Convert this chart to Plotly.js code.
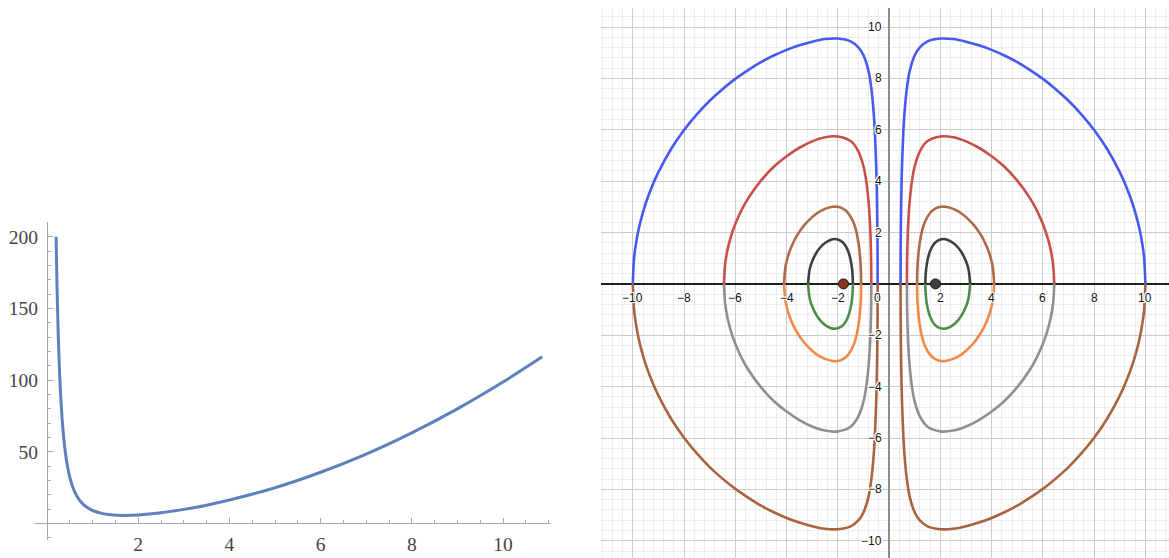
<!DOCTYPE html>
<html>
<head>
<meta charset="utf-8">
<script src="https://cdn.plot.ly/plotly-3.0.1.min.js"></script>
<style>
  html, body { margin: 0; padding: 0; background: #fff; }
  #chart { width: 1169px; height: 558px; }
</style>
</head>
<body>
<div id="chart"></div>
<script>
// ---- Left panel: one smooth curve ----
const curveX = [0.2, 0.21, 0.22, 0.24, 0.26, 0.28, 0.3, 0.33, 0.36, 0.4, 0.45, 0.5, 0.55, 0.6, 0.7, 0.8, 0.9, 1.0, 1.2, 1.4, 1.7, 2.0, 2.5, 3.0, 3.5, 4.0, 5.0, 6.0, 7.0, 8.0, 9.0, 10.0, 10.86];
const curveY = [200, 181.4, 165.3, 138.9, 118.4, 102.1, 89.0, 73.6, 61.9, 50.2, 39.7, 32.2, 26.7, 22.6, 16.8, 13.1, 10.7, 9.0, 7.0, 6.0, 5.6, 5.9, 7.4, 9.8, 12.7, 16.3, 24.9, 35.7, 48.4, 63.2, 79.9, 98.6, 116.2];
const leftXTicks = [2, 4, 6, 8, 10];
const leftYTicks = [50, 100, 150, 200];

// ---- Right panel: four closed loops around each of the two points ----
// distance from the vertical axis, and height above the horizontal axis
const loop1D = [0.447, 0.45, 0.46, 0.48, 0.5, 0.55, 0.6, 0.7, 0.8, 1.0, 1.2, 1.5, 2.0, 2.5, 3.0, 3.5, 4.0, 4.5, 5.0, 5.5, 6.0, 6.5, 7.0, 7.5, 8.0, 8.5, 9.0, 9.25, 9.5, 9.7, 9.8, 9.9, 9.95, 10.0];
const loop1H = [0, 1.11, 2.34, 3.63, 4.47, 5.81, 6.65, 7.67, 8.27, 8.90, 9.21, 9.44, 9.55, 9.53, 9.43, 9.29, 9.11, 8.89, 8.63, 8.32, 7.98, 7.58, 7.13, 6.60, 5.99, 5.26, 4.35, 3.79, 3.12, 2.43, 1.99, 1.41, 1.0, 0];
const loop2D = [0.694, 0.7, 0.72, 0.75, 0.8, 0.9, 1.0, 1.2, 1.5, 2.0, 2.5, 3.0, 3.5, 4.0, 4.5, 5.0, 5.5, 5.75, 6.0, 6.1, 6.2, 6.3, 6.4, 6.443];
const loop2H = [0, 0.83, 1.70, 2.42, 3.18, 4.06, 4.58, 5.16, 5.56, 5.74, 5.71, 5.55, 5.30, 4.97, 4.56, 4.02, 3.33, 2.89, 2.33, 2.06, 1.74, 1.35, 0.74, 0];
const loop3D = [1.091, 1.1, 1.12, 1.15, 1.2, 1.3, 1.4, 1.6, 1.8, 2.0, 2.2, 2.5, 2.8, 3.0, 3.3, 3.5, 3.7, 3.9, 4.0, 4.05, 4.1];
const loop3H = [0, 0.51, 0.89, 1.24, 1.63, 2.12, 2.42, 2.76, 2.93, 3.0, 3.0, 2.92, 2.76, 2.60, 2.30, 2.03, 1.69, 1.22, 0.87, 0.62, 0];
const loop4D = [1.414, 1.42, 1.45, 1.5, 1.6, 1.7, 1.8, 2.0, 2.2, 2.4, 2.6, 2.8, 3.0, 3.1, 3.162];
const loop4H = [0, 0.25, 0.62, 0.93, 1.28, 1.48, 1.61, 1.73, 1.74, 1.66, 1.51, 1.27, 0.88, 0.56, 0];

const upperColors = ['#4759f2', '#c9504a', '#ad6b4a', '#3f3f3f'];
const lowerColors = ['#a8643e', '#8f8f8f', '#f08a4b', '#4f8e48'];

const gridTicks = [-10, -8, -6, -4, -2, 2, 4, 6, 8, 10];
const pointX = [-1.78, 1.81];
const pointY = [0, 0];
const pointColors = ['#8a3517', '#3d3d3d'];

const loops = [[loop1D, loop1H], [loop2D, loop2H], [loop3D, loop3H], [loop4D, loop4H]];

const traces = [];

traces.push({
  x: curveX, y: curveY, xaxis: 'x', yaxis: 'y', type: 'scatter', mode: 'lines',
  line: { color: 'rgb(94,129,189)', width: 3, shape: 'spline', smoothing: 0.8 },
  hoverinfo: 'skip', showlegend: false
});

// each half of a loop: left branch, gap, right branch
function halfTrace(d, h, sign, color) {
  const xs = [], ys = [];
  for (let i = d.length - 1; i >= 0; i--) { xs.push(-d[i]); ys.push(sign * h[i]); }
  xs.push(null); ys.push(null);
  for (let i = 0; i < d.length; i++) { xs.push(d[i]); ys.push(sign * h[i]); }
  return {
    x: xs, y: ys, xaxis: 'x2', yaxis: 'y2', type: 'scatter', mode: 'lines',
    connectgaps: false,
    line: { color: color, width: 2.6, shape: 'spline', smoothing: 0.8 },
    hoverinfo: 'skip', showlegend: false
  };
}
loops.forEach((lp, i) => {
  traces.push(halfTrace(lp[0], lp[1], 1, upperColors[i]));
  traces.push(halfTrace(lp[0], lp[1], -1, lowerColors[i]));
});

traces.push({
  x: pointX, y: pointY, xaxis: 'x2', yaxis: 'y2', type: 'scatter', mode: 'markers',
  marker: { size: 10, color: pointColors, line: { color: '#1a1a1a', width: 1 } },
  hoverinfo: 'skip', showlegend: false
});

// tick labels along the axes of the right panel
const halo = '1px 0 0 #fff, -1px 0 0 #fff, 0 1px 0 #fff, 0 -1px 0 #fff, 1px 1px 0 #fff, -1px -1px 0 #fff, 1px -1px 0 #fff, -1px 1px 0 #fff';
const labelFont = { family: 'Liberation Sans, Arial, sans-serif', size: 12, color: '#111', shadow: halo };
const fmt = v => (v < 0 ? '\u2212' + Math.abs(v) : String(v));
const annotations = [];
gridTicks.forEach(t => {
  annotations.push({ x: t, y: 0, xref: 'x2', yref: 'y2', text: fmt(t), showarrow: false,
    xanchor: 'center', yanchor: 'top', yshift: -5, font: labelFont });
  annotations.push({ x: 0, y: t, xref: 'x2', yref: 'y2', text: fmt(t), showarrow: false,
    xanchor: 'right', yanchor: 'middle', xshift: -5, font: labelFont });
});
annotations.push({ x: 0, y: 0, xref: 'x2', yref: 'y2', text: '0', showarrow: false,
  xanchor: 'right', yanchor: 'top', xshift: -6, yshift: -5, font: labelFont });

const W = 1169, H = 558;
const leftAxisGray = '#a6a6a6';
const serifFont = { family: 'Liberation Serif, Times New Roman, serif', size: 19.5, color: '#444' };

const layout = {
  width: W, height: H,
  margin: { l: 0, r: 0, t: 0, b: 0, pad: 0 },
  paper_bgcolor: '#fff', plot_bgcolor: 'rgba(0,0,0,0)',
  showlegend: false,
  xaxis: {
    domain: [35 / W, 551 / W], range: [-0.2632, 11.0526],
    anchor: 'free', position: (H - 523.4) / H,
    showgrid: false, zeroline: false,
    showline: true, linecolor: leftAxisGray, linewidth: 1,
    tickmode: 'array', tickvals: leftXTicks, ticks: 'inside', ticklen: 5, tickcolor: leftAxisGray, tickwidth: 1,
    minor: { tickmode: 'linear', tick0: 0, dtick: 0.5, ticks: 'inside', ticklen: 3, tickcolor: leftAxisGray, showgrid: false },
    tickfont: serifFont, ticklabelstandoff: 3, fixedrange: true
  },
  yaxis: {
    domain: [(H - 540) / H, (H - 222) / H], range: [-11.58, 210.3],
    anchor: 'free', position: 47 / W,
    showgrid: false, zeroline: false,
    showline: true, linecolor: leftAxisGray, linewidth: 1,
    tickmode: 'array', tickvals: leftYTicks, ticks: 'inside', ticklen: 5, tickcolor: leftAxisGray, tickwidth: 1,
    minor: { tickmode: 'linear', tick0: 0, dtick: 10, ticks: 'inside', ticklen: 3, tickcolor: leftAxisGray, showgrid: false },
    tickfont: serifFont, ticklabelstandoff: 5, fixedrange: true
  },
  xaxis2: {
    domain: [601 / W, 1], range: [-11.24, 10.92], anchor: 'y2',
    showticklabels: false, ticks: '', showline: false,
    tickmode: 'linear', tick0: 0, dtick: 2,
    showgrid: true, gridcolor: '#cbcbcb', gridwidth: 1,
    minor: { tickmode: 'linear', tick0: 0, dtick: 0.4, showgrid: true, gridcolor: '#ededed', gridwidth: 1 },
    zeroline: true, zerolinecolor: '#8c8c8c', zerolinewidth: 2.5, fixedrange: true
  },
  yaxis2: {
    domain: [0, (H - 8) / H], range: [-10.67, 10.74], anchor: 'x2',
    showticklabels: false, ticks: '', showline: false,
    tickmode: 'linear', tick0: 0, dtick: 2,
    showgrid: true, gridcolor: '#cbcbcb', gridwidth: 1,
    minor: { tickmode: 'linear', tick0: 0, dtick: 0.4, showgrid: true, gridcolor: '#ededed', gridwidth: 1 },
    zeroline: true, zerolinecolor: '#1f1f1f', zerolinewidth: 1.5, fixedrange: true
  },
  annotations: annotations
};

Plotly.newPlot('chart', traces, layout, { displayModeBar: false, staticPlot: true });
</script>
</body>
</html>
